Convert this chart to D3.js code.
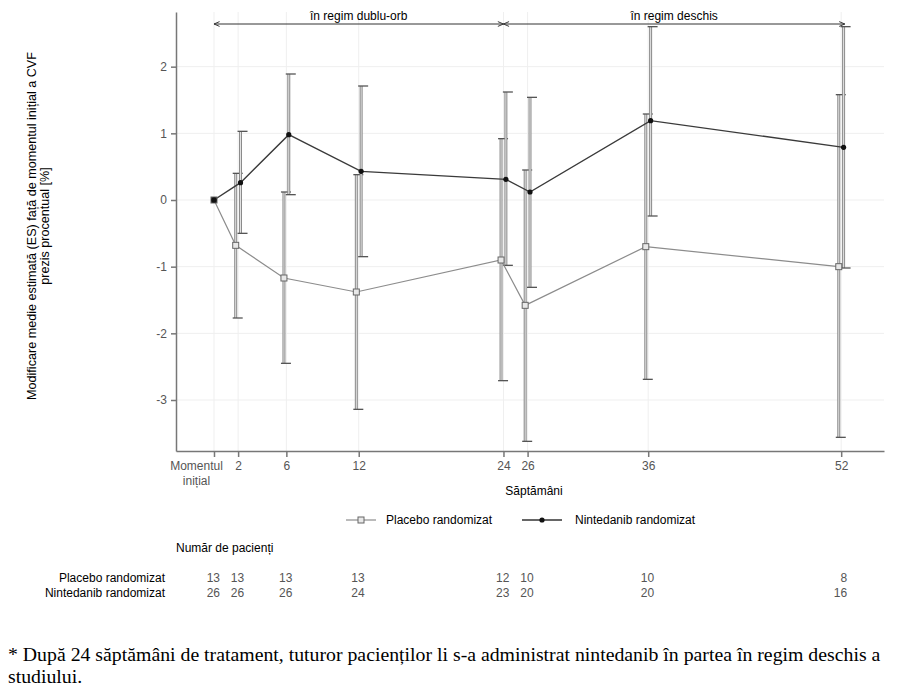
<!DOCTYPE html>
<html>
  <head>
    <meta charset="utf-8">
    <title>Modificare CVF</title>
    <script src="https://d3js.org/d3.v7.min.js"></script>
    <style>
      body { margin: 0; background: #fff; }
      svg { font-family: "Liberation Sans", Arial, sans-serif; }
      .tick text { fill: #555; font-size: 12px; }
      .note { font-family: "Liberation Serif", "Times New Roman", serif; font-size: 19.8px; fill: #000; }
    </style>
  </head>
  <body>
    <svg id="chart" width="900" height="694"></svg>
    <script>
      // data
      weeks = [0, 2, 6, 12, 24, 26, 36, 52];
      tickLabels = ["Momentul|inițial", "2", "6", "12", "24", "26", "36", "52"];
      yTicks = [-3, -2, -1, 0, 1, 2];
      ninMean = [0, 0.26, 0.98, 0.43, 0.31, 0.12, 1.19, 0.79];
      ninUpper = [0, 1.03, 1.89, 1.71, 1.62, 1.54, 2.6, 2.6];
      ninLower = [0, -0.5, 0.08, -0.85, -0.98, -1.31, -0.24, -1.02];
      plaMean = [0, -0.68, -1.17, -1.38, -0.9, -1.58, -0.7, -1.0];
      plaUpper = [0, 0.4, 0.12, 0.38, 0.92, 0.45, 1.29, 1.58];
      plaLower = [0, -1.77, -2.45, -3.14, -2.71, -3.62, -2.69, -3.56];
      plaCount = [13, 13, 13, 13, 12, 10, 10, 8];
      ninCount = [26, 26, 26, 24, 23, 20, 20, 16];
      phases = [
        { label: "în regim dublu-orb", from: 0, to: 24 },
        { label: "în regim deschis", from: 24, to: 52.3 }
      ];

      svg = d3.select("#chart");
      x = d3.scaleLinear().domain([-3.15, 55.55]).range([176, 884]);
      y = d3.scaleLinear().domain([-3.765, 2.82]).range([451, 12]);
      dodge = 0.2;

      // grid
      grid = svg.append("g");
      grid.selectAll(".gx").data(weeks).join("line")
        .attr("x1", d => x(d)).attr("x2", d => x(d))
        .attr("y1", 12).attr("y2", 451)
        .attr("stroke", "#efefef");
      grid.selectAll(".gy").data(yTicks).join("line")
        .attr("x1", 176).attr("x2", 884)
        .attr("y1", d => y(d)).attr("y2", d => y(d))
        .attr("stroke", "#efefef");

      // axes
      yAxis = svg.append("g").attr("transform", "translate(176,0)")
        .call(d3.axisLeft(y).tickValues(yTicks).tickFormat(d => String(d))
          .tickSize(5).tickPadding(4).tickSizeOuter(0));
      xAxis = svg.append("g").attr("transform", "translate(0,451)")
        .call(d3.axisBottom(x).tickValues(weeks).tickSize(6).tickPadding(6).tickSizeOuter(0)
          .tickFormat(() => ""));
      svg.selectAll(".domain, .tick line").attr("stroke", "#777").attr("stroke-width", 1.5);
      xAxis.selectAll(".tick").each(function(d, i) {
        var parts = tickLabels[i].split("|");
        var t = d3.select(this).select("text").attr("dy", null).attr("y", 19);
        parts.forEach(function(p, j) {
          t.append("tspan").attr("x", parts.length > 1 ? -18 : 0).attr("dy", j == 0 ? 0 : 15).text(p);
        });
      });
      xAxis.selectAll(".tick text").attr("fill", (d, i) => i == 0 ? "#000" : "#555");

      // axis titles
      svg.append("text")
        .attr("transform", "translate(36,226) rotate(-90)")
        .attr("text-anchor", "middle").attr("font-size", 12.6).attr("fill", "#000")
        .selectAll("tspan")
        .data(["Modificare medie estimată (ES) față de momentul inițial a CVF", "prezis procentual [%]"])
        .join("tspan").attr("x", 0).attr("dy", (d, i) => i == 0 ? 0 : 13).text(d => d);
      svg.append("text").attr("x", 534).attr("y", 495)
        .attr("text-anchor", "middle").attr("font-size", 12).text("Săptămâni");

      // phase arrows
      defs = svg.append("defs");
      defs.append("marker").attr("id", "arrow").attr("viewBox", "0 0 10 10")
        .attr("refX", 9).attr("refY", 5).attr("markerWidth", 8).attr("markerHeight", 8)
        .attr("orient", "auto-start-reverse").attr("markerUnits", "userSpaceOnUse")
        .append("path").attr("d", "M2,2 L9,5 L2,8").attr("fill", "none").attr("stroke", "#333").attr("stroke-width", 1.2);
      phase = svg.append("g").selectAll("g").data(phases).join("g");
      phase.append("line")
        .attr("x1", d => x(d.from)).attr("x2", d => x(d.to))
        .attr("y1", 24).attr("y2", 24)
        .attr("stroke", "#333").attr("stroke-width", 1)
        .attr("marker-start", "url(#arrow)").attr("marker-end", "url(#arrow)");
      phase.append("text")
        .attr("x", d => (x(d.from) + x(d.to)) / 2).attr("y", 20)
        .attr("text-anchor", "middle").attr("font-size", 12).text(d => d.label);

      // error bars
      function errorBars(upper, lower, off) {
        var g = svg.append("g");
        var data = weeks.map((w, i) => ({ w: w + off, hi: upper[i], lo: lower[i] })).filter(d => d.w > 1);
        g.selectAll(".bo").data(data).join("line")
          .attr("x1", d => x(d.w)).attr("x2", d => x(d.w))
          .attr("y1", d => y(d.hi)).attr("y2", d => y(d.lo))
          .attr("stroke", "#8a8a8a").attr("stroke-width", 3);
        g.selectAll(".bi").data(data).join("line")
          .attr("x1", d => x(d.w)).attr("x2", d => x(d.w))
          .attr("y1", d => y(d.hi)).attr("y2", d => y(d.lo))
          .attr("stroke", "#e4e4e4").attr("stroke-width", 1);
        ["hi", "lo"].forEach(function(k) {
          g.selectAll(".c" + k).data(data).join("line")
            .attr("x1", d => x(d.w) - 3).attr("x2", d => x(d.w) + 7)
            .attr("y1", d => y(d[k])).attr("y2", d => y(d[k]))
            .attr("stroke", "#555").attr("stroke-width", 1.3);
        });
      }
      errorBars(plaUpper, plaLower, -dodge);
      errorBars(ninUpper, ninLower, dodge);

      // lines
      line = d3.line().x(d => x(d[0])).y(d => y(d[1]));
      plaPts = weeks.map((w, i) => [i == 0 ? w : w - dodge, plaMean[i]]);
      ninPts = weeks.map((w, i) => [i == 0 ? w : w + dodge, ninMean[i]]);
      svg.append("path").datum(plaPts).attr("d", line)
        .attr("fill", "none").attr("stroke", "#8c8c8c").attr("stroke-width", 1.2);
      svg.append("path").datum(ninPts).attr("d", line)
        .attr("fill", "none").attr("stroke", "#3a3a3a").attr("stroke-width", 1.4);
      svg.selectAll(".psq").data(plaPts).join("rect")
        .attr("x", d => x(d[0]) - 3).attr("y", d => y(d[1]) - 3)
        .attr("width", 6).attr("height", 6)
        .attr("fill", (d, i) => i == 0 ? "#222" : "#e8e8e8").attr("stroke", "#666");
      svg.selectAll(".ndot").data(ninPts).join("circle")
        .attr("cx", d => x(d[0])).attr("cy", d => y(d[1])).attr("r", 2.6)
        .attr("fill", "#111");

      // legend
      legend = svg.append("g").attr("font-size", 12);
      legend.append("line").attr("x1", 346).attr("x2", 376).attr("y1", 520).attr("y2", 520)
        .attr("stroke", "#777");
      legend.append("rect").attr("x", 358).attr("y", 517).attr("width", 6).attr("height", 6)
        .attr("fill", "#e8e8e8").attr("stroke", "#666");
      legend.append("text").attr("x", 386).attr("y", 524).text("Placebo randomizat");
      legend.append("line").attr("x1", 522).attr("x2", 562).attr("y1", 520).attr("y2", 520)
        .attr("stroke", "#333").attr("stroke-width", 1.3);
      legend.append("circle").attr("cx", 542).attr("cy", 520).attr("r", 2.6).attr("fill", "#111");
      legend.append("text").attr("x", 575).attr("y", 524).text("Nintedanib randomizat");

      // patient numbers
      table = svg.append("g").attr("font-size", 12);
      table.append("text").attr("x", 176).attr("y", 552).text("Număr de pacienți");
      rows = [
        { label: "Placebo randomizat", counts: plaCount, yy: 582 },
        { label: "Nintedanib randomizat", counts: ninCount, yy: 597 }
      ];
      rows.forEach(function(r) {
        table.append("text").attr("x", 165).attr("y", r.yy).attr("text-anchor", "end").text(r.label);
        table.selectAll(null).data(r.counts).join("text")
          .attr("x", (d, i) => x(weeks[i]) + 6).attr("y", r.yy)
          .attr("text-anchor", "end").attr("fill", "#555").text(d => d);
      });

      // footnote
      svg.append("text").attr("class", "note").attr("x", 8).attr("y", 661)
        .text("* După 24 săptămâni de tratament, tuturor pacienților li s-a administrat nintedanib în partea în regim deschis a");
      svg.append("text").attr("class", "note").attr("x", 8).attr("y", 683).text("studiului.");
    </script>
  </body>
</html>
